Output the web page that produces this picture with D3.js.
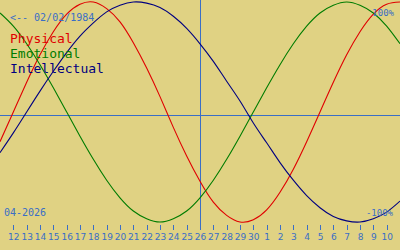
<!DOCTYPE html>
<html>
<head>
<meta charset="utf-8">
<script src="https://cdn.jsdelivr.net/npm/d3@7"></script>
<style>
  html, body { margin: 0; padding: 0; background: #e0d283; }
  svg { display: block; font-family: "DejaVu Sans Mono", monospace; }
</style>
</head>
<body>
<svg width="400" height="250"></svg>
<script>
var svg = d3.select('svg');
var svgWidth = +svg.attr('width');
var svgHeight = +svg.attr('height');

// Days shown: 2026-04-11 .. 2026-05-11, one value per day
var birthLabel = '<-- 02/02/1984';
var monthLabel = '04-2026';
var startDate = new Date(Date.UTC(2026, 3, 11));
var centerDate = new Date(Date.UTC(2026, 3, 26));

var physical = [-0.27, 0, 0.27, 0.52, 0.73, 0.89, 0.98, 1.00, 0.94, 0.82, 0.63, 0.40, 0.14, -0.14, -0.40, -0.63,
  -0.82, -0.94, -1.00, -0.98, -0.89, -0.73, -0.52, -0.27, 0, 0.27, 0.52, 0.73, 0.89, 0.98, 1.00];
var emotional = [0.90, 0.78, 0.62, 0.43, 0.22, 0, -0.22, -0.43, -0.62, -0.78, -0.90, -0.97, -1.00, -0.97, -0.90, -0.78,
  -0.62, -0.43, -0.22, 0, 0.22, 0.43, 0.62, 0.78, 0.90, 0.97, 1.00, 0.97, 0.90, 0.78, 0.62];
var intellectual = [-0.37, -0.19, 0, 0.19, 0.37, 0.54, 0.69, 0.81, 0.91, 0.97, 1.00, 0.99, 0.95, 0.87, 0.76, 0.62,
  0.46, 0.28, 0.10, -0.10, -0.28, -0.46, -0.62, -0.76, -0.87, -0.95, -0.99, -1.00, -0.97, -0.91, -0.81];

var tickLabels = ['12', '13', '14', '15', '16', '17', '18', '19', '20', '21', '22', '23', '24', '25', '26',
  '27', '28', '29', '30', '1', '2', '3', '4', '5', '6', '7', '8', '9', '10'];

var seriesNames = ['Physical', 'Emotional', 'Intellectual'];
var seriesColors = ['#e00000', '#007c00', '#000080'];
var series = [physical, emotional, intellectual];

var axisColor = '#3a6ec6';
var day = 24 * 3600 * 1000;

var xScale = d3.scaleUtc()
    .domain([startDate, new Date(startDate.getTime() + 30 * day)])
    .range([0, svgWidth]);
var yScale = d3.scaleLinear().domain([-1, 1]).range([222, 2]);

svg.append('rect')
    .attr('width', svgWidth)
    .attr('height', svgHeight)
    .attr('fill', '#e0d283');

// Zero line and today line
svg.append('line')
    .attr('x1', 0).attr('x2', svgWidth)
    .attr('y1', 115.5).attr('y2', 115.5)
    .attr('stroke', axisColor);
svg.append('line')
    .attr('x1', Math.round(xScale(centerDate)) + 0.5).attr('x2', Math.round(xScale(centerDate)) + 0.5)
    .attr('y1', 0).attr('y2', 230)
    .attr('stroke', axisColor);

// Day axis
var tickDates = tickLabels.map(function(d, i) { return new Date(startDate.getTime() + (i + 1) * day); });
var xAxis = d3.axisBottom(xScale)
    .tickValues(tickDates)
    .tickSize(5)
    .tickPadding(4)
    .tickFormat(function(d, i) { return tickLabels[i]; });

var axisG = svg.append('g')
    .attr('transform', 'translate(0,225)')
    .call(xAxis);
axisG.select('.domain').remove();
axisG.selectAll('line').attr('stroke', axisColor).attr('shape-rendering', 'crispEdges');
axisG.selectAll('text')
    .attr('fill', axisColor)
    .style('font-family', '"DejaVu Sans", sans-serif')
    .style('font-size', '9px');

// Curves
var line = d3.line()
    .x(function(d, i) { return xScale(new Date(startDate.getTime() + i * day)); })
    .y(function(d) { return yScale(d); })
    .curve(d3.curveNatural);

svg.selectAll('.curve')
    .data(series)
    .enter()
    .append('path')
    .attr('class', 'curve')
    .attr('d', line)
    .attr('fill', 'none')
    .attr('stroke', function(d, i) { return seriesColors[i]; })
    .attr('stroke-width', 1.1);

// Labels
svg.append('text')
    .attr('x', 10).attr('y', 21)
    .attr('fill', axisColor)
    .style('font-size', '10px')
    .text(birthLabel);

svg.selectAll('.legend')
    .data(seriesNames)
    .enter()
    .append('text')
    .attr('class', 'legend')
    .attr('x', 10)
    .attr('y', function(d, i) { return 43 + i * 15; })
    .attr('fill', function(d, i) { return seriesColors[i]; })
    .style('font-size', '13px')
    .text(function(d) { return d; });

svg.append('text')
    .attr('x', 394).attr('y', 16)
    .attr('text-anchor', 'end')
    .attr('fill', axisColor)
    .style('font-size', '9px')
    .text('100%');

svg.append('text')
    .attr('x', 393).attr('y', 216)
    .attr('text-anchor', 'end')
    .attr('fill', axisColor)
    .style('font-size', '9px')
    .text('-100%');

svg.append('text')
    .attr('x', 4).attr('y', 216)
    .attr('fill', axisColor)
    .style('font-size', '10px')
    .text(monthLabel);
</script>
</body>
</html>
